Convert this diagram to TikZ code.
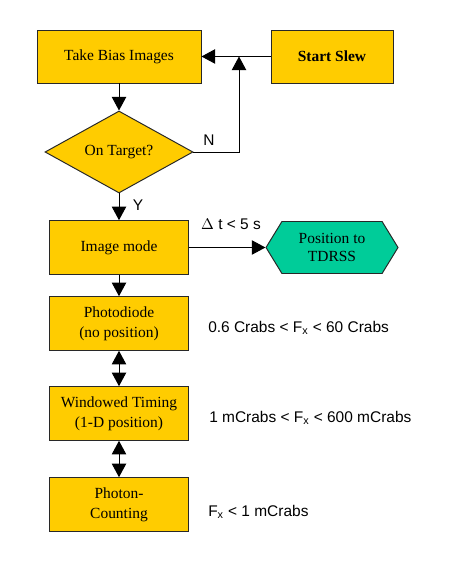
\documentclass[tikz,border=0pt]{standalone}
\usepackage{fontspec}
\setmainfont{Liberation Serif}
\setsansfont{Liberation Sans}
\newfontfamily\boxfont{Liberation Serif}
\usepackage{tikz}
\usetikzlibrary{positioning, arrows.meta, shapes.geometric, shapes.symbols}
\definecolor{boxgold}{RGB}{255,204,0}
\definecolor{tdrssgreen}{RGB}{0,204,153}
\definecolor{edgegray}{RGB}{40,40,40}

\begin{document}
\begin{tikzpicture}[
    box/.style={rectangle, draw=edgegray, fill=boxgold, line width=0.7pt, minimum width=3.475cm, minimum height=1.34cm, align=center, font=\boxfont\fontsize{11}{14}\selectfont},
    decision/.style={diamond, draw=edgegray, fill=boxgold, line width=0.7pt, minimum width=3.7cm, minimum height=2.05cm, inner sep=0pt, aspect=1.8, font=\boxfont\fontsize{11}{14}\selectfont},
    report/.style={signal, signal to=east and west, signal pointer angle=117, draw=edgegray, fill=tdrssgreen, line width=0.7pt, minimum width=3.3cm, minimum height=1.3cm, align=center, font=\boxfont\fontsize{11}{13}\selectfont},
    note/.style={anchor=west, inner sep=0pt, font=\sffamily\fontsize{11}{13}\selectfont},
    flow/.style={-{Triangle[length=3.4mm, width=3.6mm]}, line width=0.7pt},
    twoway/.style={{Triangle[length=3.4mm, width=3.6mm]}-{Triangle[length=3.4mm, width=3.6mm]}, line width=0.7pt}
  ]
    \useasboundingbox (0,0) rectangle (11.25,-14.675);

    \node[box, minimum width=4.1cm, minimum height=1.325cm] (bias) at (2.975,-1.4125) {Take Bias Images};
    \node[box, minimum width=3.05cm, minimum height=1.325cm, font=\boxfont\fontsize{11}{14}\selectfont\bfseries] (slew) at (8.3,-1.4125) {Start Slew};
    \node[decision] (target) at (2.975,-3.8) {On Target?};
    \node[box] (image) at (2.975,-6.1875) {Image mode};
    \node[report] (tdrss) at (8.3,-6.1875) {Position to\\TDRSS};
    \node[box] (photo) at (2.975,-8.0875) {Photodiode\\(no position)};
    \node[box] (window) at (2.975,-10.3375) {Windowed Timing\\(1-D position)};
    \node[box] (photon) at (2.975,-12.6125) {Photon-\\Counting};
    \coordinate (merge) at (5.975,-1.4125);

    % labels
    \node[note, anchor=center] (no) at (5.225,-3.5) {N};
    \node[note, anchor=center] (yes) at (3.45,-5.125) {Y};
    \node[note, anchor=center] (delay) at (5.775,-5.6) {$\Delta$ t < 5 s};
    \node[note] (bright) at (5.2,-8.2) {0.6 Crabs < F\textsubscript{x} < 60 Crabs};
    \node[note] (medium) at (5.225,-10.45) {1 mCrabs < F\textsubscript{x} < 600 mCrabs};
    \node[note] (faint) at (5.2,-12.8) {F\textsubscript{x} < 1 mCrabs};

    \draw[flow] (slew) -- (bias);
    \draw[flow] (bias) -- (target);
    \draw[flow] (target.east) -| (merge);
    \draw[flow] (target) -- (image);
    \draw[flow] (image) -- (tdrss);
    \draw[flow] (image) -- (photo);
    \draw[twoway] (photo) -- (window);
    \draw[twoway] (window) -- (photon);
\end{tikzpicture}
\end{document}
